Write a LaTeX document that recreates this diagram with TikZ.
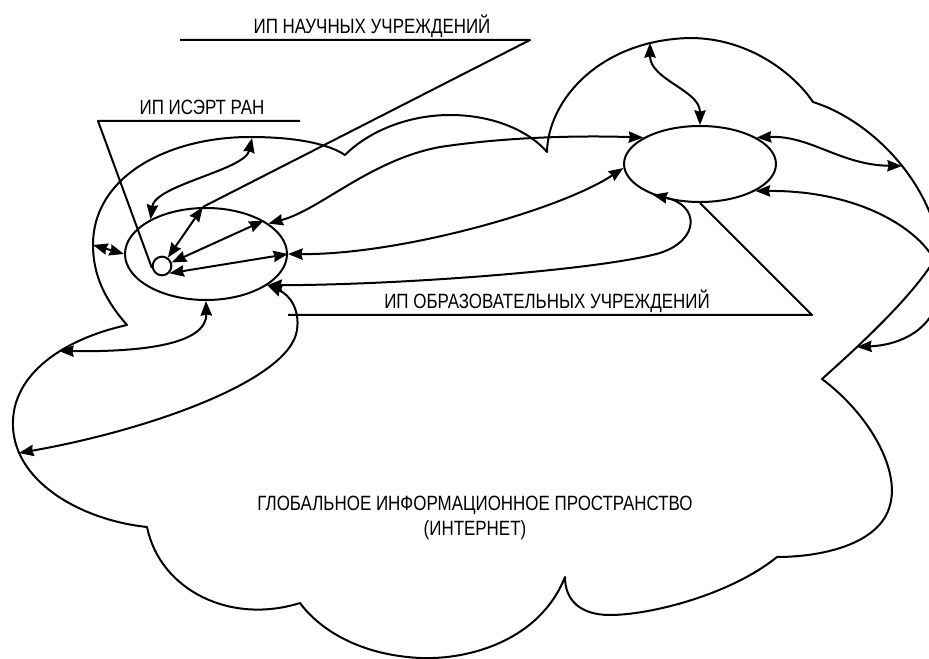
\documentclass[tikz,border=0pt]{standalone}
\usepackage{fontspec}
\newfontfamily\labfont[FakeStretch=0.82]{Liberation Sans}
\usetikzlibrary{arrows.meta,shapes.geometric}
\begin{document}
\begin{tikzpicture}[x=0.75pt,y=-0.75pt,
  line width=1.5pt, line join=round,
  conn/.style={draw, {Stealth[length=11pt,width=8.5pt,inset=1pt]}-{Stealth[length=11pt,width=8.5pt,inset=1pt]}},
  lead/.style={draw},
  cloudline/.style={draw},
  lbl/.style={font=\labfont\fontsize{15.5pt}{19pt}\selectfont, inner sep=0pt},
  ell/.style={draw, ellipse, inner sep=0pt},
]
\useasboundingbox (0,0) rectangle (929,659);
\fill[white] (0,0) rectangle (929,659);
\clip (0,0) rectangle (929,659);

% cloud outline (bumps meeting in cusps)
\draw[cloudline]
  (127,325) .. controls (105,300) and (93,275) .. (93,245)
            .. controls (93,175) and (170,137) .. (250,137)
            .. controls (300,137) and (330,145) .. (345,155)
            .. controls (370,130) and (410,115) .. (450,115)
            .. controls (495,115) and (530,132) .. (547,152)
            .. controls (548,100) and (600,40) .. (690,38)
            .. controls (750,38) and (795,75) .. (813,102)
            .. controls (870,120) and (930,180) .. (940,250)
            .. controls (920,290) and (860,345) .. (822,379)
            .. controls (870,415) and (900,470) .. (890,505)
            .. controls (880,545) and (820,557) .. (777,557)
            .. controls (730,595) and (650,615) .. (610,615)
            .. controls (580,615) and (565,600) .. (565,577)
            .. controls (540,640) and (470,660) .. (420,658)
            .. controls (360,655) and (320,630) .. (300,603)
            .. controls (230,625) and (160,590) .. (147,527)
            .. controls (80,520) and (10,480) .. (13,420)
            .. controls (15,375) and (60,340) .. (127,325) -- cycle;

% points on the cloud
\coordinate (c4) at (93,245);
\coordinate (c5) at (252,138);
\coordinate (c6) at (59,351);
\coordinate (c7) at (19,453);
\coordinate (cb1) at (650,43);
\coordinate (cb2) at (902,166);
\coordinate (cb3) at (857,347);

% ellipses
\node[ell, minimum width=121.5pt, minimum height=69pt] (L) at (206,254) {};
\node[ell, minimum width=114pt, minimum height=57pt] (R) at (700,164) {};
\node[draw, circle, minimum size=14pt, inner sep=0pt, fill=white] (S) at (162,266) {};

% connectors around left ellipse
\draw[conn] (S.55) -- (L.94);
\draw[conn] (S.20) -- (L.30);
\draw[conn] (S.-45) -- (L.0);
\draw[conn] (L.180) -- (c4);
\draw[conn] (L.148) .. controls (155,185) and (245,170) .. (c5);
\draw[conn] (L.-90) .. controls (207,345) and (140,352) .. (c6);
\draw[conn] (L.-27) .. controls (290,295) and (300,310) .. (297,330) .. controls (290,380) and (150,430) .. (c7);

% connectors between ellipses
\draw[conn] (L.26) .. controls (320,210) and (370,160) .. (440,147) .. controls (520,135) and (600,136) .. (R.155);
\draw[conn] (L.0) .. controls (400,255) and (560,210) .. (R.183);
\draw[conn] (L.-27) .. controls (400,285) and (600,270) .. (660,253) .. controls (700,240) and (700,205) .. (R.213);

% connectors around right ellipse
\draw[conn] (R.90) .. controls (700,90) and (650,80) .. (cb1);
\draw[conn] (R.25) .. controls (810,135) and (840,165) .. (cb2);
\draw[conn] (R.-26) .. controls (880,190) and (950,250) .. (940,290) .. controls (935,330) and (900,345) .. (cb3);

% labels and leaders
\node[lbl] (tIS) at (202,107) {ИП ИСЭРТ РАН};
\coordinate (isR) at (300,121);
\coordinate (isL) at (98,121);
\draw[lead] (isR) -- (isL) -- (S.190);

\node[lbl] (tNU) at (372,26) {ИП НАУЧНЫХ УЧРЕЖДЕНИЙ};
\coordinate (nuL) at (180,40);
\coordinate (nuR) at (530,40);
\draw[lead] (nuL) -- (nuR) -- (L.94);

\node[lbl] (tOU) at (547,301) {ИП ОБРАЗОВАТЕЛЬНЫХ УЧРЕЖДЕНИЙ};
\coordinate (ouL) at (288,315);
\coordinate (ouR) at (812,315);
\draw[lead] (ouL) -- (ouR) -- (R.-90);

\node[lbl, align=center] (tGL) at (475,518) {ГЛОБАЛЬНОЕ ИНФОРМАЦИОННОЕ ПРОСТРАНСТВО\\(ИНТЕРНЕТ)};
\end{tikzpicture}
\end{document}
